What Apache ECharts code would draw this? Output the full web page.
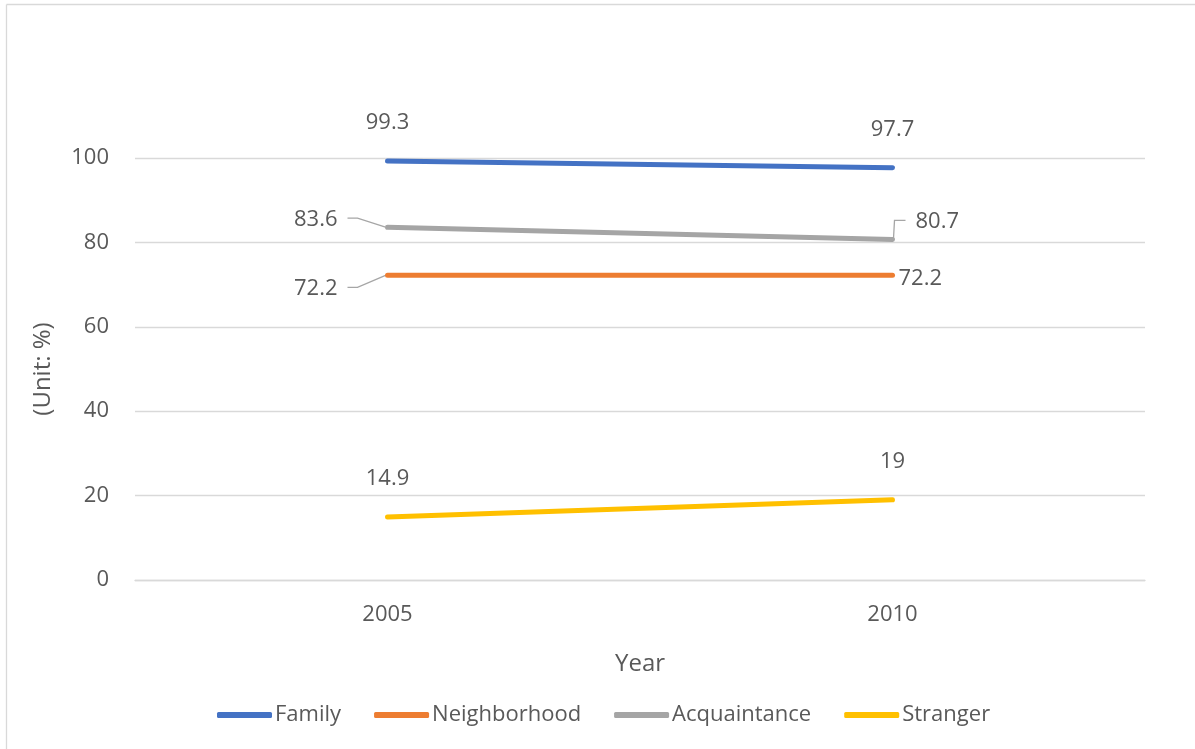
<!DOCTYPE html>
<html><head><meta charset="utf-8">
<script src="https://cdn.jsdelivr.net/npm/echarts@6/dist/echarts.min.js"></script>
<style>html,body{margin:0;padding:0;background:#fff}#c{width:1195px;height:749px}</style>
</head><body><div id="c"></div>
<script>
const categories = ['2005', '2010'];
const family = [99.3, 97.7];
const neighborhood = [72.2, 72.2];
const acquaintance = [83.6, 80.7];
const stranger = [14.9, 19];
const yTicks = [0, 20, 40, 60, 80, 100];

const FONT = '"Open Sans", "Noto Sans", sans-serif';
const TXT = '#595959';

function center(p) {
  const r = p.rect;
  return [r.x + r.width / 2, r.y + r.height / 2];
}
function above(p) {
  const [cx, cy] = center(p);
  return { x: cx, y: cy - 38, align: 'center', verticalAlign: 'middle' };
}

const chart = echarts.init(document.getElementById('c'), null, { renderer: 'canvas' });
function mk(name, data, color, layout) {
  return {
    name, type: 'line', data,
    symbol: 'circle', symbolSize: 1, showSymbol: true,
    lineStyle: { color, width: 5, cap: 'round' },
    itemStyle: { color },
    label: { show: true, fontFamily: FONT, fontSize: 22, color: TXT },
    labelLine: { show: false },
    labelLayout: layout,
    emphasis: { disabled: true },
    silent: true, animation: false, z: 3
  };
}

// leader lines for the labels that sit beside their points (series name, category index)
const leaders = [['Acquaintance', 0], ['Acquaintance', 1], ['Neighborhood', 0]];
const seriesValues = { Acquaintance: acquaintance, Neighborhood: neighborhood };
const leaderOffsets = {
  'Acquaintance-0': [[-40, -9], [-30, -9], [-2, 0]],
  'Acquaintance-1': [[1, -1], [2, -19], [13, -19]],
  'Neighborhood-0': [[-40, 12], [-30, 12], [-2, 0]]
};

chart.setOption({
  animation: false,
  grid: { left: 135, right: 50, top: 158, bottom: 169 },
  xAxis: {
    type: 'category', data: categories, boundaryGap: true,
    axisLine: { show: true, lineStyle: { color: '#d9d9d9', width: 1.3 } },
    axisTick: { show: false },
    axisLabel: { color: TXT, fontFamily: FONT, fontSize: 22, margin: 24 },
    name: 'Year', nameLocation: 'middle', nameGap: 72,
    nameTextStyle: { color: TXT, fontFamily: FONT, fontSize: 24 }
  },
  yAxis: {
    type: 'value', min: 0, max: 100, interval: 20,
    axisLine: { show: false }, axisTick: { show: false },
    splitLine: { lineStyle: { color: '#d9d9d9', width: 1.3 } },
    axisLabel: { color: TXT, fontFamily: FONT, fontSize: 22, margin: 26,
      formatter: v => yTicks.includes(v) ? String(v) : '' },
    name: '(Unit: %)', nameLocation: 'middle', nameGap: 80, nameRotate: 90,
    nameTextStyle: { color: TXT, fontFamily: FONT, fontSize: 24 }
  },
  legend: {
    top: 699, left: 212, itemWidth: 55, itemHeight: 6, itemGap: 33,
    icon: 'roundRect',
    textStyle: { color: TXT, fontFamily: FONT, fontSize: 22, padding: [0, 0, 0, -2] },
    data: ['Family', 'Neighborhood', 'Acquaintance', 'Stranger']
  },
  graphic: [
    { type: 'line', shape: { x1: 6.5, y1: 4.5, x2: 1195, y2: 4.5 },
      style: { stroke: '#d9d9d9', lineWidth: 1.3 }, silent: true },
    { type: 'line', shape: { x1: 6.5, y1: 4.5, x2: 6.5, y2: 749 },
      style: { stroke: '#d9d9d9', lineWidth: 1.3 }, silent: true }
  ],
  series: [
    mk('Family', family, '#4472C4', above),
    mk('Neighborhood', neighborhood, '#ED7D31', function (p) {
      const [cx, cy] = center(p);
      if (p.dataIndex === 0) return { x: cx - 50, y: cy + 13, align: 'right', verticalAlign: 'middle' };
      return { x: cx + 6, y: cy + 3, align: 'left', verticalAlign: 'middle' };
    }),
    mk('Acquaintance', acquaintance, '#A5A5A5', function (p) {
      const [cx, cy] = center(p);
      if (p.dataIndex === 0) return { x: cx - 50, y: cy - 7, align: 'right', verticalAlign: 'middle' };
      return { x: cx + 23, y: cy - 18, align: 'left', verticalAlign: 'middle' };
    }),
    mk('Stranger', stranger, '#FFC000', above),
    {
      type: 'custom', name: 'leaders', silent: true, z: 2,
      data: leaders.map(([s, i]) => [i, seriesValues[s][i], s]),
      encode: { x: 0, y: 1 },
      renderItem: function (params, api) {
        const idx = api.value(0);
        const key = leaders[params.dataIndex][0] + '-' + leaders[params.dataIndex][1];
        const pt = api.coord([idx, api.value(1)]);
        const pts = leaderOffsets[key].map(o => [pt[0] + o[0], pt[1] + o[1]]);
        return { type: 'polyline', shape: { points: pts },
          style: { stroke: '#a6a6a6', lineWidth: 1.3, fill: null } };
      }
    }
  ]
});
</script></body></html>
